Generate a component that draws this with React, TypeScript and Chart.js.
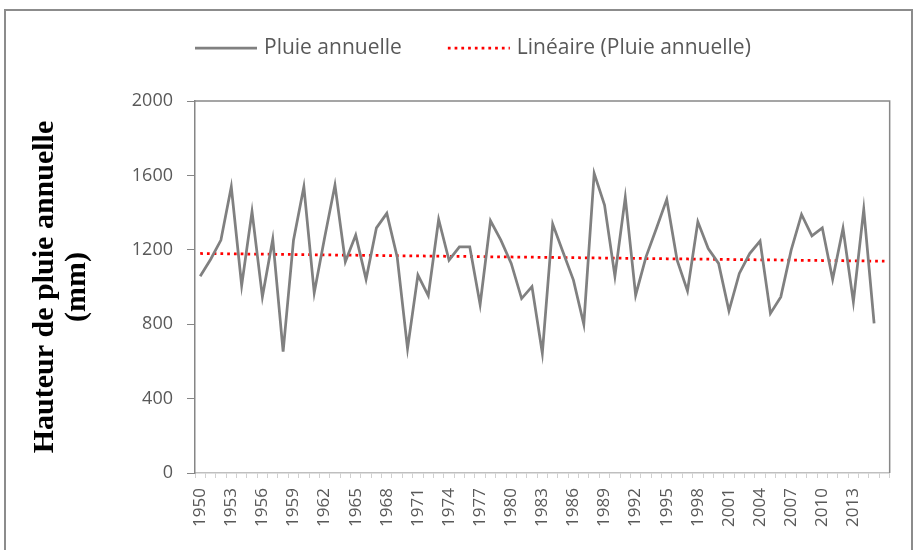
import React, { useEffect, useRef } from "react";
import { Chart, registerables } from "chart.js";

Chart.register(...registerables);

const years: string[] = [
  "1950", "1951", "1952", "1953", "1954", "1955", "1956", "1957", "1958", "1959",
  "1960", "1961", "1962", "1963", "1964", "1965", "1966", "1967", "1968", "1969",
  "1970", "1971", "1972", "1973", "1974", "1975", "1976", "1977", "1978", "1979",
  "1980", "1981", "1982", "1983", "1984", "1985", "1986", "1987", "1988", "1989",
  "1990", "1991", "1992", "1993", "1994", "1995", "1996", "1997", "1998", "1999",
  "2000", "2001", "2002", "2003", "2004", "2005", "2006", "2007", "2008", "2009",
  "2010", "2011", "2012", "2013", "2014", "2015", "2016",
];

const rainfall: (number | null)[] = [
  1058, 1148, 1252, 1539, 1008, 1406, 947, 1257, 653, 1252,
  1539, 969, 1265, 1548, 1136, 1279, 1042, 1318, 1396, 1162,
  669, 1064, 953, 1363, 1144, 1216, 1216, 906, 1356, 1252,
  1127, 938, 1002, 644, 1338, 1187, 1037, 800, 1611, 1440,
  1058, 1482, 956, 1162, 1315, 1471, 1144, 979, 1351, 1207,
  1127, 872, 1073, 1180, 1247, 858, 947, 1198, 1390, 1275,
  1318, 1041, 1315, 920, 1417, 804, null,
];

const yTicks: number[] = [0, 400, 800, 1200, 1600, 2000];

const seriesLabel = "Pluie annuelle";
const trendLabel = "Linéaire (Pluie annuelle)";
const axisTitle = ["Hauteur de pluie annuelle", "(mm)"];

// least-squares linear trend built from the series values
function linearTrend(values: (number | null)[]): number[] {
  let n = 0, sx = 0, sy = 0, sxx = 0, sxy = 0;
  values.forEach((v, i) => {
    if (v === null) return;
    n++; sx += i; sy += v; sxx += i * i; sxy += i * v;
  });
  const b = (n * sxy - sx * sy) / (n * sxx - sx * sx);
  const a = (sy - b * sx) / n;
  return values.map((_, i) => a + b * i);
}

const GRAY = "#808080";
const RED = "#ff0000";
const TEXT = "#595959";

const decorPlugin = {
  id: "decor",
  beforeDatasetsDraw(chart: any) {
    const { ctx, chartArea } = chart;
    ctx.save();
    // outer frame
    ctx.strokeStyle = "#8c8c8c";
    ctx.lineWidth = 2;
    ctx.strokeRect(5, 10, 907, 600);
    // plot-area top and right border
    ctx.strokeStyle = "#888888";
    ctx.lineWidth = 1.5;
    ctx.beginPath();
    ctx.moveTo(chartArea.left, chartArea.top);
    ctx.lineTo(chartArea.right, chartArea.top);
    ctx.lineTo(chartArea.right, chartArea.bottom);
    ctx.stroke();
    ctx.restore();
  },
  afterDraw(chart: any) {
    const { ctx } = chart;
    const ds = chart.data.datasets;
    ctx.save();
    ctx.font = "21px 'Open Sans'";
    ctx.textBaseline = "middle";
    ctx.fillStyle = TEXT;
    const y = 48;
    let x = 195;
    ds.forEach((d: any) => {
      ctx.strokeStyle = d.borderColor;
      ctx.lineWidth = d.borderWidth;
      ctx.setLineDash(d.borderDash || []);
      ctx.beginPath();
      ctx.moveTo(x, y);
      ctx.lineTo(x + 62, y);
      ctx.stroke();
      ctx.setLineDash([]);
      x += 62 + 7;
      ctx.fillText(d.label, x, y);
      x += ctx.measureText(d.label).width + 46;
    });
    ctx.restore();
  },
};

export default function App() {
  const canvasRef = useRef<HTMLCanvasElement | null>(null);

  useEffect(() => {
    const canvas = canvasRef.current;
    if (!canvas) return;
    const trend = linearTrend(rainfall);
    const chart = new Chart(canvas, {
      type: "line",
      data: {
        labels: years,
        datasets: [
          {
            label: seriesLabel,
            data: rainfall,
            borderColor: GRAY,
            backgroundColor: GRAY,
            borderWidth: 2.75,
            pointRadius: 0,
            tension: 0,
            spanGaps: false,
          },
          {
            label: trendLabel,
            data: trend,
            borderColor: RED,
            backgroundColor: RED,
            borderWidth: 2.75,
            borderDash: [2.75, 4],
            pointRadius: 0,
            tension: 0,
          },
        ],
      },
      options: {
        animation: false,
        responsive: false,
        layout: { padding: { left: 18, top: 101, right: 16, bottom: 0 } },
        plugins: {
          legend: { display: false },
          tooltip: { enabled: false },
        },
        scales: {
          x: {
            type: "category",
            offset: true,
            afterFit: (scale: any) => {
              scale.height = 77;
            },
            grid: {
              display: true,
              drawOnChartArea: false,
              drawTicks: true,
              tickLength: 5,
              offset: true,
              color: "#d0d0d0",
            },
            border: { display: true, color: "#bfbfbf", width: 1.5 },
            ticks: {
              autoSkip: false,
              minRotation: 90,
              maxRotation: 90,
              padding: 10,
              color: TEXT,
              font: { family: "'Open Sans'", size: 17 },
              callback: function (this: any, value: any, index: number) {
                const lab = this.getLabelForValue(value);
                return index % 3 === 0 && rainfall[index] !== null ? lab : "";
              },
            },
          },
          y: {
            min: 0,
            max: 2000,
            afterFit: (scale: any) => {
              scale.width = 177;
            },
            afterBuildTicks: (scale: any) => {
              scale.ticks = yTicks.map((v) => ({ value: v }));
            },
            grid: {
              display: true,
              drawOnChartArea: false,
              drawTicks: true,
              tickLength: 8,
              color: "#868686",
            },
            border: { display: true, color: "#868686", width: 1.5 },
            ticks: {
              padding: 14,
              color: TEXT,
              font: { family: "'Open Sans'", size: 18 },
              callback: (value: any) => String(value),
            },
            title: {
              display: true,
              text: axisTitle,
              color: "#000000",
              padding: { top: 11, bottom: 0 },
              font: { family: "'Liberation Serif'", size: 30, weight: "bold", lineHeight: 1.07 },
            },
          },
        },
      },
      plugins: [decorPlugin],
    });
    return () => chart.destroy();
  }, []);

  return (
    <div style={{ position: "absolute", left: 0, top: 0, width: 915, height: 550, background: "#ffffff" }}>
      <canvas ref={canvasRef} width={915} height={550} style={{ display: "block" }} />
    </div>
  );
}
